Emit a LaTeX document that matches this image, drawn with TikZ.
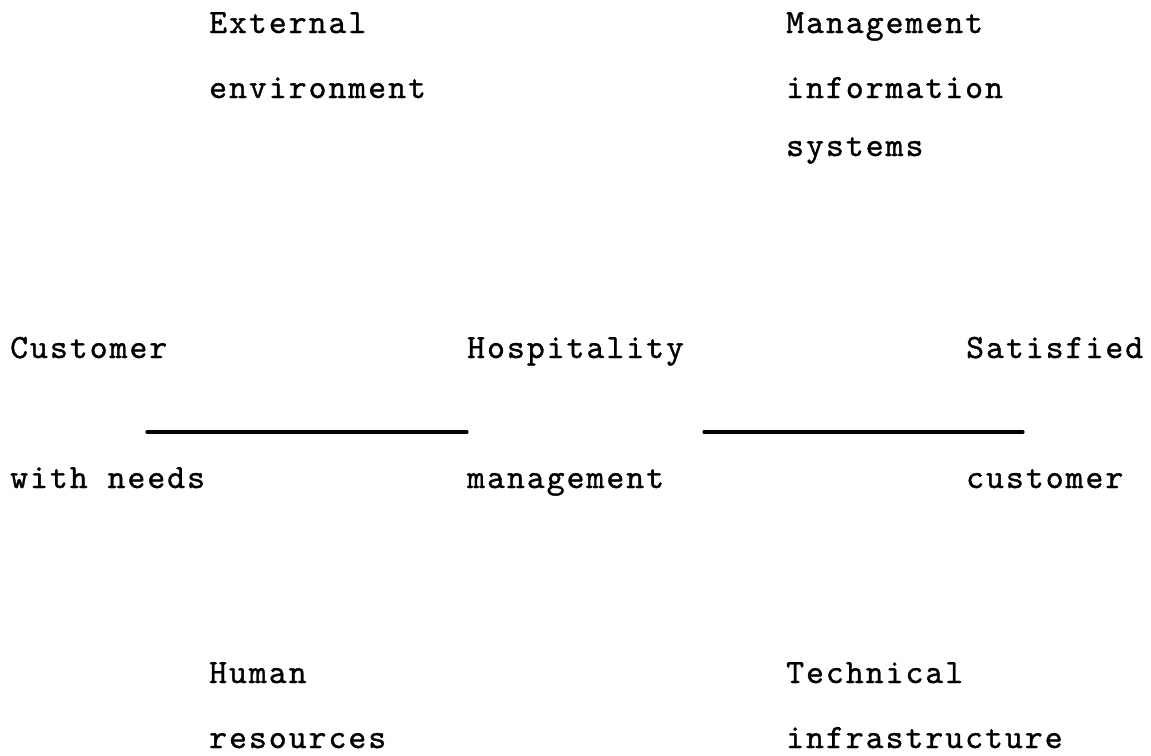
\documentclass[tikz,border=0pt]{standalone}
\usepackage{fontspec}
% typewriter face with a wider pitch and a heavier stroke
\newfontfamily\typewriter{lmmono10-regular.otf}[LetterSpace=6,FakeBold=1.0]
\begin{document}
\begin{tikzpicture}[x=1pt,y=-1pt,
  lbl/.style={anchor=base west,inner sep=0pt,
    font=\typewriter\fontsize{34pt}{34pt}\selectfont},
  bar/.style={line width=3.2pt,line cap=round}]
\useasboundingbox (0,0) rectangle (1151,755);

% upper influences
\node[lbl] (ext1) at (209,33)  {External};
\node[lbl] (ext2) at (209,98)  {environment};
\node[lbl] (mis1) at (786,33)  {Management};
\node[lbl] (mis2) at (786,98)  {information};
\node[lbl] (mis3) at (786,156) {systems};

% main flow
\node[lbl] (cust1) at (10,358)  {Customer};
\node[lbl] (cust2) at (10,488)  {with needs};
\node[lbl] (hosp1) at (467,358) {Hospitality};
\node[lbl] (hosp2) at (467,488) {management};
\node[lbl] (sat1)  at (966,358) {Satisfied};
\node[lbl] (sat2)  at (966,488) {customer};

\coordinate (barAa) at (147,432);
\coordinate (barAb) at (467,432);
\coordinate (barBa) at (704,432);
\coordinate (barBb) at (1023,432);
\draw[bar] (barAa) -- (barAb);
\draw[bar] (barBa) -- (barBb);

% lower influences
\node[lbl] (hr1) at (209,683) {Human};
\node[lbl] (hr2) at (209,748) {resources};
\node[lbl] (ti1) at (786,683) {Technical};
\node[lbl] (ti2) at (786,748) {infrastructure};
\end{tikzpicture}
\end{document}
